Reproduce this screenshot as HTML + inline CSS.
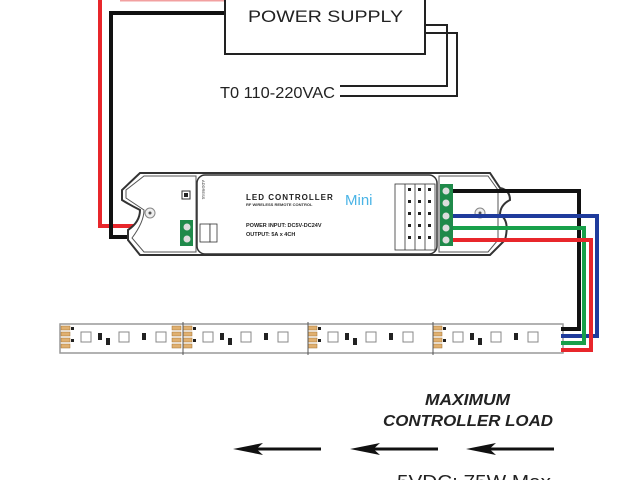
<!DOCTYPE html>
<html><head><meta charset="utf-8"><style>
html,body{margin:0;padding:0;background:#fff;}
svg{display:block;font-family:"Liberation Sans",sans-serif;}
</style></head><body>
<svg width="640" height="480" viewBox="0 0 640 480" xmlns="http://www.w3.org/2000/svg">
<polyline points="120,0 225,0" stroke="#f2a0a0" stroke-width="3" fill="none"/>
<polyline points="100,0 100,226 183,226" stroke="#e8262b" stroke-width="4" fill="none"/>
<polyline points="225,13 111,13 111,237 183,237" stroke="#111" stroke-width="4" fill="none"/>
<rect x="225" y="-5" width="200" height="59" fill="#fff" stroke="#222" stroke-width="2"/>
<text x="248" y="22" font-size="17" textLength="155" lengthAdjust="spacingAndGlyphs" fill="#222">POWER SUPPLY</text>
<polyline points="425,25 447,25 447,86 340,86" stroke="#222" stroke-width="2" fill="none"/>
<polyline points="425,33 457,33 457,96 340,96" stroke="#222" stroke-width="2" fill="none"/>
<text x="220" y="98" font-size="16" textLength="115" lengthAdjust="spacingAndGlyphs" fill="#222">T0 110-220VAC</text>
<path d="M140,173 H490 L500,188 Q510,190 510,200 Q500,205 500,215 Q510,220 505,240 L490,255 H140 L128,240 L128,230 Q140,222 140,210 Q130,205 122,200 L122,190 Z" fill="#fff" stroke="#333" stroke-width="2"/>
<path d="M144,176 H196 V252 H144 L132,238 Q144,222 144,210 L126,198 V190 Z" fill="none" stroke="#555" stroke-width="1"/>
<rect x="197" y="175" width="240" height="79" rx="8" fill="#fff" stroke="#333" stroke-width="1.5"/>
<path d="M439,176 H488 L498,190 V240 L488,252 H439 Z" fill="none" stroke="#555" stroke-width="1"/>
<circle cx="150" cy="213" r="5" fill="#eee" stroke="#888"/><circle cx="150" cy="213" r="1.5" fill="#555"/>
<circle cx="480" cy="213" r="5" fill="#eee" stroke="#888"/><circle cx="480" cy="213" r="1.5" fill="#555"/>
<rect x="182" y="191" width="8" height="8" fill="#fff" stroke="#333"/><rect x="184" y="193" width="4" height="4" fill="#222"/>
<text x="202" y="180" font-size="4" transform="rotate(90 202 180)" fill="#333">ADDRESS</text>
<rect x="180" y="220" width="13" height="26" fill="#1f8a4a"/>
<circle cx="187" cy="227" r="3.5" fill="#ddd"/><circle cx="187" cy="239" r="3.5" fill="#ddd"/>
<rect x="200" y="224" width="10" height="18" fill="#fff" stroke="#333" stroke-width="0.8"/>
<rect x="210" y="224" width="7" height="18" fill="#fff" stroke="#333" stroke-width="0.8"/>
<text x="246" y="200" font-size="8" font-weight="bold" fill="#222" letter-spacing="1">LED CONTROLLER</text>
<text x="246" y="206" font-size="4" font-weight="bold" fill="#333">RF WIRELESS REMOTE CONTROL</text>
<text x="345" y="205" font-size="15" fill="#4ab4e6">Mini</text>
<text x="246" y="227" font-size="5.5" font-weight="bold" fill="#222">POWER INPUT: DC5V-DC24V</text>
<text x="246" y="236" font-size="5.5" font-weight="bold" fill="#222">OUTPUT: 5A x 4CH</text>
<g stroke="#333" stroke-width="0.8" fill="none">
<rect x="395" y="184" width="40" height="66"/>
<line x1="405" y1="184" x2="405" y2="250"/><line x1="415" y1="184" x2="415" y2="250"/><line x1="425" y1="184" x2="425" y2="250"/>
</g>
<g fill="#222">
<rect x="408" y="188" width="3" height="3"/><rect x="418" y="188" width="3" height="3"/><rect x="428" y="188" width="3" height="3"/>
<rect x="408" y="200" width="3" height="3"/><rect x="418" y="200" width="3" height="3"/><rect x="428" y="200" width="3" height="3"/>
<rect x="408" y="212" width="3" height="3"/><rect x="418" y="212" width="3" height="3"/><rect x="428" y="212" width="3" height="3"/>
<rect x="408" y="224" width="3" height="3"/><rect x="418" y="224" width="3" height="3"/><rect x="428" y="224" width="3" height="3"/>
<rect x="408" y="236" width="3" height="3"/><rect x="418" y="236" width="3" height="3"/><rect x="428" y="236" width="3" height="3"/>
</g>
<rect x="440" y="184" width="13" height="62" fill="#1f8a4a"/>
<g fill="#ddd"><circle cx="446" cy="191" r="3.5"/><circle cx="446" cy="203" r="3.5"/><circle cx="446" cy="216" r="3.5"/><circle cx="446" cy="228" r="3.5"/><circle cx="446" cy="240" r="3.5"/></g>
<rect x="60" y="324" width="503" height="29" fill="#fff" stroke="#999" stroke-width="1.5"/>
<g id="seg">
<g fill="#e0b070" stroke="#a07030" stroke-width="0.5">
<rect x="61" y="326" width="9" height="4"/><rect x="61" y="332" width="9" height="4"/><rect x="61" y="338" width="9" height="4"/><rect x="61" y="344" width="9" height="4"/>
</g>
<g fill="#fff" stroke="#888" stroke-width="1">
<rect x="81" y="332" width="10" height="10"/><rect x="119" y="332" width="10" height="10"/><rect x="156" y="332" width="10" height="10"/>
</g>
<g fill="#222"><rect x="98" y="333" width="4" height="7"/><rect x="106" y="338" width="4" height="7"/><rect x="142" y="333" width="4" height="7"/><rect x="71" y="327" width="3" height="3"/><rect x="71" y="339" width="3" height="3"/></g>
</g>
<use href="#seg" x="122"/><use href="#seg" x="247"/><use href="#seg" x="372"/>
<g fill="#e0b070" stroke="#a07030" stroke-width="0.5">
<rect x="172" y="326" width="9" height="4"/><rect x="172" y="332" width="9" height="4"/><rect x="172" y="338" width="9" height="4"/><rect x="172" y="344" width="9" height="4"/>
</g>
<line x1="183" y1="322" x2="183" y2="355" stroke="#555"/><line x1="308" y1="322" x2="308" y2="355" stroke="#555"/><line x1="433" y1="322" x2="433" y2="355" stroke="#555"/>
<polyline points="453,191 579,191 579,329 561,329" stroke="#111" stroke-width="4" fill="none"/>
<polyline points="453,216 597,216 597,336 561,336" stroke="#1f3b9c" stroke-width="4" fill="none"/>
<polyline points="453,228 584,228 584,343 561,343" stroke="#18a04a" stroke-width="4" fill="none"/>
<polyline points="453,240 591,240 591,350 561,350" stroke="#e8262b" stroke-width="4" fill="none"/>
<text x="425" y="405" font-size="16" font-weight="bold" font-style="italic" textLength="85" lengthAdjust="spacingAndGlyphs" fill="#222">MAXIMUM</text>
<text x="383" y="426" font-size="16" font-weight="bold" font-style="italic" textLength="170" lengthAdjust="spacingAndGlyphs" fill="#222">CONTROLLER LOAD</text>
<g fill="#111">
<path d="M233,449 L263,443 L258,447.5 H321 V450.5 H258 L263,455 Z"/>
<path d="M350,449 L380,443 L375,447.5 H438 V450.5 H375 L380,455 Z"/>
<path d="M466,449 L496,443 L491,447.5 H554 V450.5 H491 L496,455 Z"/>
</g>
<text x="397" y="488" font-size="18" textLength="154" lengthAdjust="spacingAndGlyphs" fill="#222">5VDC:   75W Max</text>
</svg>
</body></html>
